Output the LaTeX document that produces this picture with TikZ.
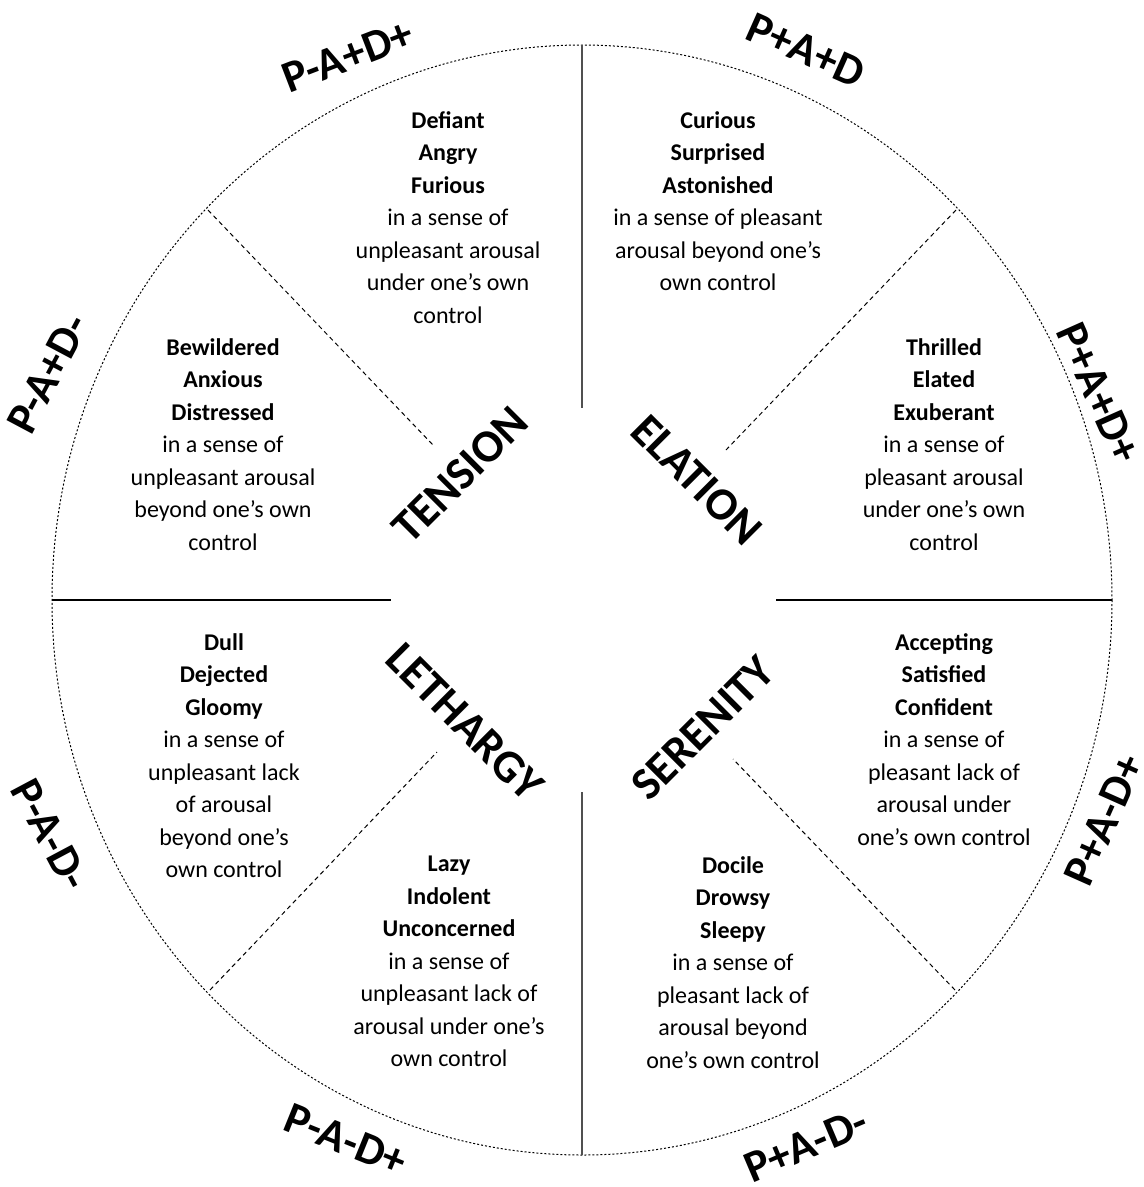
\documentclass[tikz,border=0pt]{standalone}
\usepackage{fontspec}
\setmainfont{Carlito}

\tikzset{every picture/.style={line width=0.75pt}}
\tikzset{
  rim/.style={line width=1pt, dash pattern={on 2pt off 2pt}},
  axis/.style={line width=1.6pt, color={rgb, 255:red, 80; green, 80; blue, 80}},
  ray/.style={line width=1pt, dash pattern={on 4.5pt off 3.5pt}},
  blurb/.style={anchor=north, inner sep=0pt, align=center, font=\fontsize{24}{32.5}\selectfont},
  mood/.style={inner sep=0pt, font=\fontsize{46}{50}\selectfont\bfseries},
  pad/.style={inner sep=0pt, font=\fontsize{45}{48}\selectfont\bfseries}
}

\begin{document}
\begin{tikzpicture}[x=1pt,y=1pt,yscale=-1,xscale=1]
\useasboundingbox (0,0) rectangle (1144,1187);

%Shape: Ellipse
\coordinate (mid) at (582,600);
\draw [rim] (mid) ellipse [x radius=530, y radius=555];

%Straight Lines
\coordinate (topout) at (582,45);
\coordinate (topin) at (582,408);
\coordinate (botin) at (582,792);
\coordinate (botout) at (582,1155);
\coordinate (leftout) at (52,600);
\coordinate (leftin) at (391,600);
\coordinate (rightin) at (776,600);
\coordinate (rightout) at (1112,600);
\draw [axis] (topout) -- (topin);
\draw [axis] (botin) -- (botout);
\draw [axis, color=black] (leftout) -- (leftin);
\draw [axis, color=black] (rightin) -- (rightout);

%Straight Lines
\coordinate (nwout) at (208,210);
\coordinate (nwin) at (433,445);
\coordinate (neout) at (956,210);
\coordinate (nein) at (726,450);
\coordinate (swout) at (210,990);
\coordinate (swin) at (437,752);
\coordinate (seout) at (955,990);
\coordinate (sein) at (733,759);
\draw [ray] (nwout) -- (nwin);
\draw [ray] (neout) -- (nein);
\draw [ray] (swout) -- (swin);
\draw [ray] (seout) -- (sein);

% Text Node
\node [mood, rotate=45] (tension) at (460,475) {TENSION};
% Text Node
\node [mood, rotate=-45] (elation) at (697,480) {ELATION};
% Text Node
\node [mood, rotate=-45] (lethargy) at (465,722) {LETHARGY};
% Text Node
\node [mood, rotate=45] (serenity) at (703,728) {SERENITY};

% Text Node
\node [pad, rotate=21] (pmapdp) at (348,56) {P-A+D+};
% Text Node
\node [pad, rotate=-24] (ppapd) at (806,50) {P+A+D};
% Text Node
\node [pad, rotate=-66] (ppapdp) at (1099,393) {P+A+D+};
% Text Node
\node [pad, rotate=66] (ppmadp) at (1104,820) {P+A-D+};
% Text Node
\node [pad, rotate=62] (pmapdm) at (48,374) {P-A+D-};
% Text Node
\node [pad, rotate=-62] (pmmadm) at (50,835) {P-A-D-};
% Text Node
\node [pad, rotate=-22] (pmmadp) at (346,1140) {P-A-D+};
% Text Node
\node [pad, rotate=23] (ppmadm) at (806,1145) {P+A-D-};

% Text Node
\node [blurb] (defiant) at (448,111) {\textbf{Defiant}\\\textbf{Angry}\\\textbf{Furious}\\in a sense of\\unpleasant arousal\\under one’s own\\control};
% Text Node
\node [blurb] (curious) at (718,111) {\textbf{Curious}\\\textbf{Surprised}\\\textbf{Astonished}\\in a sense of pleasant\\arousal beyond one’s\\own control};
% Text Node
\node [blurb] (bewildered) at (223,338) {\textbf{Bewildered}\\\textbf{Anxious}\\\textbf{Distressed}\\in a sense of\\unpleasant arousal\\beyond one’s own\\control};
% Text Node
\node [blurb] (thrilled) at (944,338) {\textbf{Thrilled}\\\textbf{Elated}\\\textbf{Exuberant}\\in a sense of\\pleasant arousal\\under one’s own\\control};
% Text Node
\node [blurb] (dull) at (224,633) {\textbf{Dull}\\\textbf{Dejected}\\\textbf{Gloomy}\\in a sense of\\unpleasant lack\\of arousal\\beyond one’s\\own control};
% Text Node
\node [blurb] (accepting) at (944,633) {\textbf{Accepting}\\\textbf{Satisfied}\\\textbf{Confident}\\in a sense of\\pleasant lack of\\arousal under\\one’s own control};
% Text Node
\node [blurb] (lazy) at (449,856) {\textbf{Lazy}\\\textbf{Indolent}\\\textbf{Unconcerned}\\in a sense of\\unpleasant lack of\\arousal under one’s\\own control};
% Text Node
\node [blurb] (docile) at (733,856) {\textbf{Docile}\\\textbf{Drowsy}\\\textbf{Sleepy}\\in a sense of\\pleasant lack of\\arousal beyond\\one’s own control};
\end{tikzpicture}
\end{document}
